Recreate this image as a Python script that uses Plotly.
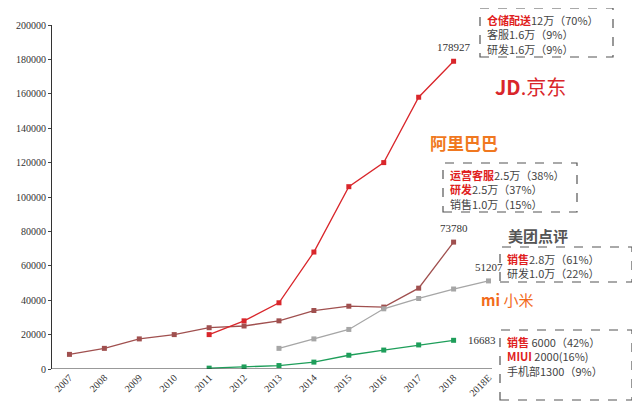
import plotly.graph_objects as go

anos = ["2007", "2008", "2009", "2010", "2011", "2012", "2013", "2014",
        "2015", "2016", "2017", "2018", "2018E"]

ali_x = anos[:12]
ali_y = [8500, 12000, 17500, 20000, 24000, 25000, 28000, 34000, 36500, 36000, 47000, 73780]
jd_x = anos[4:12]
jd_y = [20000, 28000, 38500, 68000, 106000, 120000, 158000, 178927]
mt_x = anos[6:13]
mt_y = [12000, 17500, 23000, 35000, 41000, 46500, 51207]
mi_x = anos[4:12]
mi_y = [500, 1200, 2000, 4000, 8000, 11000, 14000, 16683]

W, H = 640, 414
OFF = 8  # page offset of the figure in the window
L, R, T, B = 44, 156, 17, 53
PW, PH = W - L - R, H - T - B


def px(x):
    return (x - OFF - L) / PW


def py(y):
    return (H - B - (y - OFF)) / PH


fig = go.Figure()
series = [
    (ali_x, ali_y, "#a0504f"),
    (jd_x, jd_y, "#d9262b"),
    (mt_x, mt_y, "#a6a6a6"),
    (mi_x, mi_y, "#1e9e5a"),
]
for xs, ys, cor in series:
    fig.add_trace(go.Scatter(x=xs, y=ys, mode="lines+markers",
                             line=dict(color=cor, width=1.3),
                             marker=dict(symbol="square", size=5, color=cor)))

# value labels at ends (category index so "2018" is not read as a number)
for xs, ys, dx, dy in [(jd_x, jd_y, 0, 14), (ali_x, ali_y, 0, 14),
                       (mt_x, mt_y, 0, 14), (mi_x, mi_y, 28, 0)]:
    fig.add_annotation(x=anos.index(xs[-1]), y=ys[-1], text=str(ys[-1]), showarrow=False,
                       font=dict(family="Liberation Serif", size=11, color="#333"),
                       xshift=dx, yshift=dy)

# dashed info boxes
caixas = [
    (480, 8, 613, 57, ["<b><span style='color:#e02020'>仓储配送</span></b>12万（70%）",
                       "客服1.6万（9%）", "研发1.6万（9%）"]),
    (443, 163, 577, 212, ["<b><span style='color:#e02020'>运营客服</span></b>2.5万（38%）",
                          "<b><span style='color:#e02020'>研发</span></b>2.5万（37%）",
                          "销售1.0万（15%）"]),
    (500, 247, 632, 282, ["<b><span style='color:#e02020'>销售</span></b>2.8万（61%）",
                          "研发1.0万（22%）"]),
    (500, 330, 632, 400, ["<b><span style='color:#e02020'>销售</span></b> 6000（42%）",
                          "<b><span style='color:#e02020'>MIUI</span></b> 2000(16%)",
                          "手机部1300（9%）"]),
]
for x0, y0, x1, y1, linhas in caixas:
    fig.add_shape(type="rect", xref="paper", yref="paper",
                  x0=px(x0), x1=px(x1), y0=py(y1), y1=py(y0),
                  line=dict(color="#555", width=1.2, dash="dash"))
    fig.add_annotation(xref="paper", yref="paper", x=px(x0 + 5), y=py(y0 + 2),
                       xanchor="left", yanchor="top", showarrow=False, align="left",
                       text="<br>".join(linhas),
                       font=dict(family="Noto Sans CJK SC", size=11, color="#444"))

# logos as text
logos = [
    (568, 70, "<b>JD</b>.京东", "#d9262b", 20),
    (500, 142, "<b>阿里巴巴</b>", "#f07820", 17),
    (570, 235, "<b>美团点评</b>", "#555", 15),
    (535, 312, "<b>mi</b> 小米", "#f26a1b", 15),
]
for x, y, txt, cor, tam in logos:
    fig.add_annotation(xref="paper", yref="paper", x=px(x), y=py(y), showarrow=False,
                       text=txt, font=dict(family="Noto Sans CJK SC", size=tam, color=cor))

fig.update_layout(
    width=W, height=H,
    margin=dict(l=L, r=R, t=T, b=B),
    plot_bgcolor="white", paper_bgcolor="white",
    showlegend=False,
    xaxis=dict(type="category", categoryarray=anos, categoryorder="array",
               tickangle=-45, showgrid=False, showline=False, zeroline=False,
               ticks="", range=[-0.5, 12.1], automargin=False,
               tickfont=dict(family="Liberation Serif", size=10, color="#333")),
    yaxis=dict(range=[0, 200000], dtick=20000, showgrid=False, zeroline=False,
               showline=True, linecolor="#333", linewidth=1, ticks="outside",
               ticklen=3, tickformat="d", automargin=False,
               tickfont=dict(family="Liberation Serif", size=10, color="#333")),
)
fig.add_shape(type="line", xref="paper", yref="y", x0=0, x1=1, y0=0, y1=0,
              line=dict(color="#333", width=1))

fig.write_html("out.html")
